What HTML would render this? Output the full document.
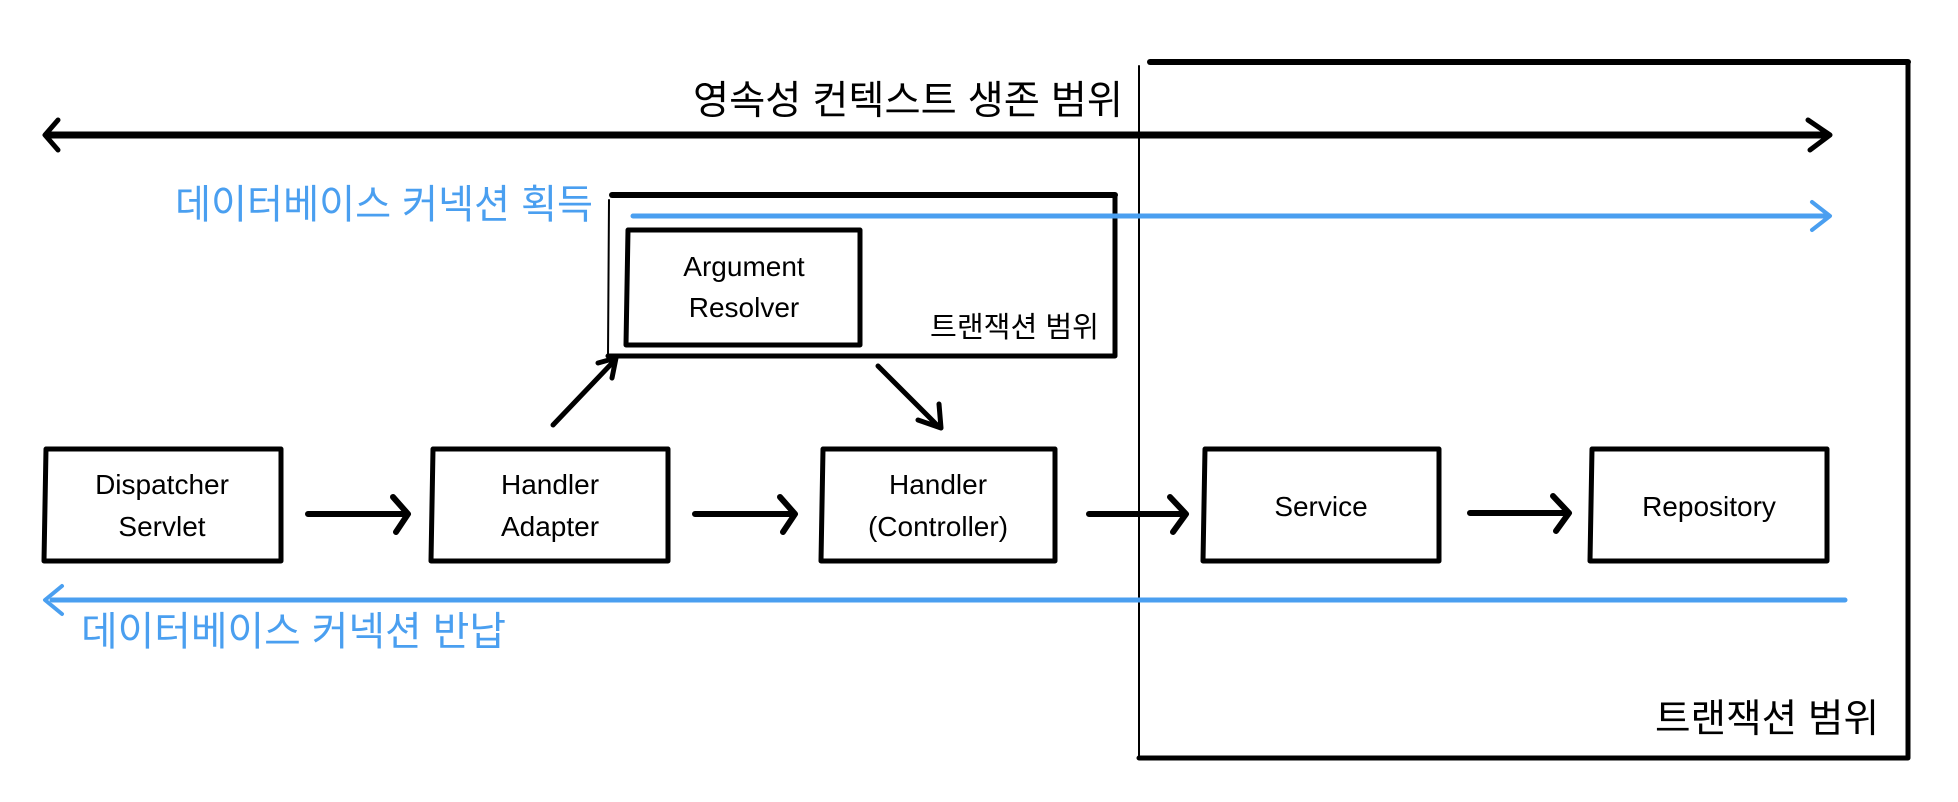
<!DOCTYPE html>
<html><head><meta charset="utf-8"><style>
html,body{margin:0;padding:0;background:#fff;}
svg{display:block;}
text{font-family:"Liberation Sans","Noto Sans CJK KR",sans-serif;}
</style></head><body>
<svg width="1958" height="802" viewBox="0 0 1958 802" xmlns="http://www.w3.org/2000/svg">
<g fill="none" stroke="#000" stroke-linecap="round" stroke-linejoin="round">
<path d="M1150 62 L1908 62" stroke-width="6"/>
<path d="M1908 62 L1908 758 L1139 758" stroke-width="5"/>
<path d="M1139 66 L1139 758" stroke-width="2"/>
<path d="M48 135 L1825 135" stroke-width="7"/>
<path d="M58 120 L45 135 L58 150" stroke-width="5"/>
<path d="M1808 120 L1830 135 L1810 150" stroke-width="5"/>
<path d="M612 195 L1115 195" stroke-width="6"/>
<path d="M1115 195 L1115 356 L608 356" stroke-width="5"/>
<path d="M609 200 L608 356" stroke-width="2"/>
<path d="M628 230 L860 230 L860 345 L626 345 Z" stroke-width="5"/>
<path d="M46 449 L281 449 L281 561 L44 561 Z" stroke-width="5"/>
<path d="M433 449 L668 449 L668 561 L431 561 Z" stroke-width="5"/>
<path d="M823 449 L1055 449 L1055 561 L821 561 Z" stroke-width="5"/>
<path d="M1205 449 L1439 449 L1439 561 L1203 561 Z" stroke-width="5"/>
<path d="M1592 449 L1827 449 L1827 561 L1590 561 Z" stroke-width="5"/>
<path d="M308 514 L405 514 M393 497 L408 514 L396 532" stroke-width="6"/>
<path d="M695 514 L792 514 M780 497 L795 514 L783 532" stroke-width="6"/>
<path d="M1089 514 L1183 514 M1170 497 L1186 514 L1173 532" stroke-width="6"/>
<path d="M1470 513 L1566 513 M1553 496 L1569 513 L1556 531" stroke-width="6"/>
<path d="M553 425 L615 360 M598 363 L616 358 L612 378" stroke-width="5"/>
<path d="M878 366 L938 426 M918 420 L941 428 L939 404" stroke-width="5"/>
</g>
<g fill="none" stroke="#4a9ff0" stroke-linecap="round" stroke-linejoin="round">
<path d="M633 216 L1825 216" stroke-width="5"/>
<path d="M1812 202 L1830 216 L1812 230" stroke-width="4"/>
<path d="M52 600 L1845 600" stroke-width="5"/>
<path d="M62 586 L45 600 L62 614" stroke-width="4"/>
</g>
<g fill="#000">
<text x="693" y="114" font-size="39.5" textLength="430" lengthAdjust="spacingAndGlyphs">영속성 컨텍스트 생존 범위</text>
<text x="1655" y="732" font-size="39" textLength="224" lengthAdjust="spacingAndGlyphs">트랜잭션 범위</text>
</g>
<g fill="#4a9ff0" font-size="40">
<text x="175" y="218" textLength="418" lengthAdjust="spacingAndGlyphs">데이터베이스 커넥션 획득</text>
<text x="81" y="645" textLength="425" lengthAdjust="spacingAndGlyphs">데이터베이스 커넥션 반납</text>
</g>
<text x="930" y="337" font-size="29" textLength="169" lengthAdjust="spacingAndGlyphs">트랜잭션 범위</text>
<g font-size="28" text-anchor="middle" fill="#000">
<text x="744" y="276">Argument</text><text x="744" y="317">Resolver</text>
<text x="162" y="494">Dispatcher</text><text x="162" y="536">Servlet</text>
<text x="550" y="494">Handler</text><text x="550" y="536">Adapter</text>
<text x="938" y="494">Handler</text><text x="938" y="536">(Controller)</text>
<text x="1321" y="516">Service</text>
<text x="1709" y="516">Repository</text>
</g>
</svg>
</body></html>
